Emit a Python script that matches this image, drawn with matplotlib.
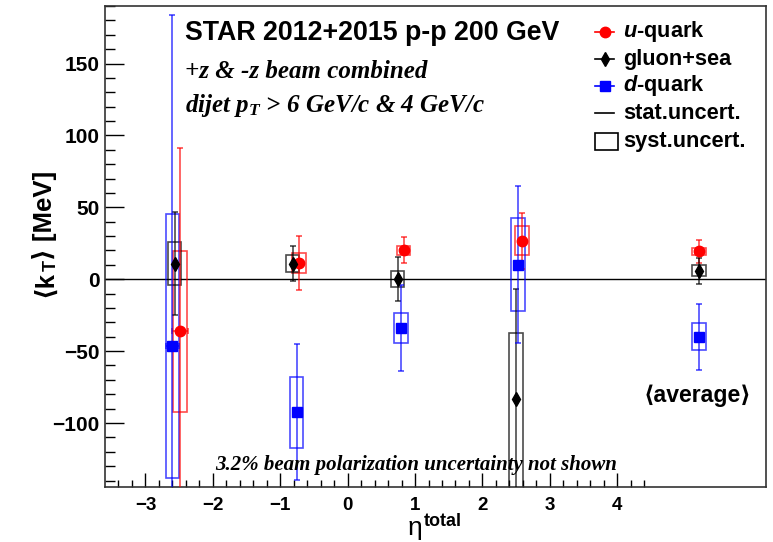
import matplotlib
matplotlib.use("Agg")
import matplotlib.pyplot as plt
from matplotlib.patches import Rectangle
from matplotlib.lines import Line2D
from matplotlib.ticker import MultipleLocator, FixedLocator

plt.rcParams['font.family'] = ['Liberation Sans', 'DejaVu Sans']
plt.rcParams['font.weight'] = 'bold'
plt.rcParams['mathtext.fontset'] = 'custom'
plt.rcParams['mathtext.rm'] = 'Liberation Sans:bold'
plt.rcParams['mathtext.bf'] = 'Liberation Sans:bold'
plt.rcParams['mathtext.sf'] = 'Liberation Sans:italic:bold'
plt.rcParams['mathtext.it'] = 'Liberation Serif:italic:bold'

# ---------------- data ----------------
series_names = ["u-quark", "gluon+sea", "d-quark"]

eta_u = [-2.49, -0.72, 0.83, 2.59, 5.21]
val_u = [-36.2, 11.3, 20.2, 26.7, 19.3]
stat_u = [127.4, 19.0, 9.0, 19.5, 7.7]
xerr_u = [0.12, 0.0, 0.0, 0.0, 0.0]
syst_u_lo = [56.0, 7.0, 3.2, 10.0, 2.7]
syst_u_hi = [56.0, 7.0, 3.2, 10.0, 2.7]

eta_g = [-2.565, -0.815, 0.74, 2.50, 5.21]
val_g = [10.9, 10.9, 0.2, -83.1, 5.8]
stat_g = [35.8, 12.2, 15.1, 76.6, 9.2]
xerr_g = [0.0, 0.0, 0.0, 0.0, 0.0]
syst_g_lo = [15.1, 5.7, 5.4, 75.0, 3.9]
syst_g_hi = [15.1, 5.7, 5.4, 46.0, 3.9]

eta_d = [-2.60, -0.757, 0.79, 2.53, 5.21]
val_d = [-46.6, -92.6, -33.9, 10.2, -40.1]
stat_d = [230.0, 47.3, 30.2, 54.7, 23.0]
xerr_d = [0.10, 0.0, 0.0, 0.0, 0.0]
syst_d_lo = [91.7, 24.6, 10.7, 32.5, 9.4]
syst_d_hi = [91.7, 24.6, 10.7, 32.5, 9.4]

x_major_ticks = [-3, -2, -1, 0, 1, 2, 3, 4]
box_halfwidth = 0.1

# ---------------- figure ----------------
W, H = 773, 542
fig = plt.figure(figsize=(W / 100, H / 100), dpi=100)
L, R, T, B = 105, 765.5, 6, 487
ax = fig.add_axes([L / W, 1 - B / H, (R - L) / W, (B - T) / H])


def fp(x, y):
    return (x / W, 1 - y / H)


ax.set_xlim(-3.6, 6.2)
ax.set_ylim(-144.5, 190)

ax.axhline(0, color='black', lw=1.0, zorder=1)

styles = [
    (eta_u, val_u, stat_u, xerr_u, syst_u_lo, syst_u_hi, 'o', 7.5, (1, 0, 0), 'red'),
    (eta_g, val_g, stat_g, xerr_g, syst_g_lo, syst_g_hi, 'd', 7.0, (0, 0, 0), 'black'),
    (eta_d, val_d, stat_d, xerr_d, syst_d_lo, syst_d_hi, 's', 6.5, (0, 0, 1), 'blue'),
]

for eta, val, stat, xerr, slo, shi, mk, ms, rgb, col in styles:
    ecol = rgb + (0.7,)
    for e, v, lo, hi in zip(eta, val, slo, shi):
        ax.add_patch(Rectangle((e - box_halfwidth, v - lo), 2 * box_halfwidth, lo + hi,
                               fill=False, edgecolor=ecol, lw=1.2, zorder=2))
    ax.errorbar(eta, val, yerr=stat, fmt='none', ecolor=ecol, elinewidth=1.2,
                capsize=2, capthick=1.2, zorder=3)
    xe = [(e, v, x) for e, v, x in zip(eta, val, xerr) if x > 0]
    if xe:
        ax.errorbar([a[0] for a in xe], [a[1] for a in xe], xerr=[a[2] for a in xe],
                    fmt='none', ecolor=ecol, elinewidth=1.2, capsize=2, capthick=1.2, zorder=3)
    ax.plot(eta, val, linestyle='none', marker=mk, markersize=ms, color=col,
            markeredgecolor=col, zorder=4)

# ticks
ax.xaxis.set_major_locator(FixedLocator(x_major_ticks))
ax.xaxis.set_minor_locator(FixedLocator([round(-3.4 + 0.2 * i, 1) for i in range(40)]))
ax.yaxis.set_major_locator(MultipleLocator(50))
ax.yaxis.set_minor_locator(MultipleLocator(10))
ax.tick_params(axis='x', which='major', direction='in', length=10, width=1, labelsize=13.5, pad=7)
ax.tick_params(axis='x', which='minor', direction='in', length=5, width=1)
ax.tick_params(axis='y', which='major', direction='in', length=14, width=1, labelsize=15, pad=4)
ax.tick_params(axis='y', which='minor', direction='in', length=7, width=1)
ax.tick_params(top=False, right=False, which='both')
for s in ax.spines.values():
    s.set_linewidth(1.2)
    s.set_color('#333333')

# texts
fig.text(*fp(185, 40), "STAR 2012+2015 p-p 200 GeV", fontsize=19.3, fontweight='bold',
         ha='left', va='baseline')
fig.text(*fp(185, 78), "+z & -z beam combined", fontsize=18,
         family=['Liberation Serif', 'DejaVu Serif'],
         style='italic', fontweight='bold', ha='left', va='baseline')
fig.text(*fp(185, 112), r"dijet p$_{\mathit{T}}$ > 6 GeV/c & 4 GeV/c", fontsize=18,
         family=['Liberation Serif', 'DejaVu Serif'], style='italic', fontweight='bold',
         ha='left', va='baseline')
fig.text(*fp(215, 470), "3.2% beam polarization uncertainty not shown", fontsize=15,
         family=['Liberation Serif', 'DejaVu Serif'], style='italic', fontweight='bold',
         ha='left', va='baseline')
fig.text(*fp(697.5, 402), "⟨average⟩", fontsize=16.6, fontweight='bold', ha='center',
         va='baseline')

fig.canvas.draw()
rend = fig.canvas.get_renderer()

# y label built from pieces: "⟨k" + subscript "T" + "⟩ [MeV]"
yl_x, yl_y = 52, 297
pieces = [("⟨k", 18.5, 0), ("T", 13, 4), ("⟩ [MeV]", 18.5, 0)]
cur = yl_y
for txt, sz, dx in pieces:
    t = fig.text(*fp(yl_x + dx, cur), txt, fontsize=sz, fontweight='bold', rotation=90,
                 rotation_mode='anchor', ha='left', va='baseline')
    bb = t.get_window_extent(renderer=rend)
    cur -= bb.height

# x label: eta (normal) + superscript 'total' (bold)
eta_txt = fig.text(*fp(408, 535), "η", fontsize=19, fontweight='normal', ha='left',
                   va='baseline')
bb = eta_txt.get_window_extent(renderer=rend)
fig.text(bb.x1 / W + 1 / W, 1 - 526 / H, "total", fontsize=13, fontweight='bold',
         ha='left', va='baseline')

# legend (manual)
leg_y = [31.7, 59.3, 86.0, 113.3]
leg_lbl = [r"$\mathsf{u}$-quark", "gluon+sea", r"$\mathsf{d}$-quark", "stat.uncert."]
leg_mk = ['o', 'd', 's', None]
leg_col = ['red', 'black', 'blue', 'black']
leg_ms = [7.5, 7.0, 6.5, 0]
for yy, lb, mk, c, ms in zip(leg_y, leg_lbl, leg_mk, leg_col, leg_ms):
    x0, y0 = fp(595, yy)
    x1, _ = fp(614, yy)
    fig.add_artist(Line2D([x0, x1], [y0, y0], color=c, lw=1.2, transform=fig.transFigure))
    if mk:
        fig.add_artist(Line2D([(x0 + x1) / 2], [y0], marker=mk, markersize=ms, color=c,
                              transform=fig.transFigure))
    fig.text(*fp(623, yy), lb, fontsize=15.7, fontweight='bold', ha='left', va='center')
bx0, by0 = fp(595, 150)
fig.add_artist(Rectangle((bx0, by0), 23 / W, 17 / H, fill=False, edgecolor='black', lw=1.2,
                         transform=fig.transFigure))
fig.text(*fp(623, 141.7), "syst.uncert.", fontsize=15.7, fontweight='bold', ha='left',
         va='center')

fig.savefig("out.png", dpi=100)
